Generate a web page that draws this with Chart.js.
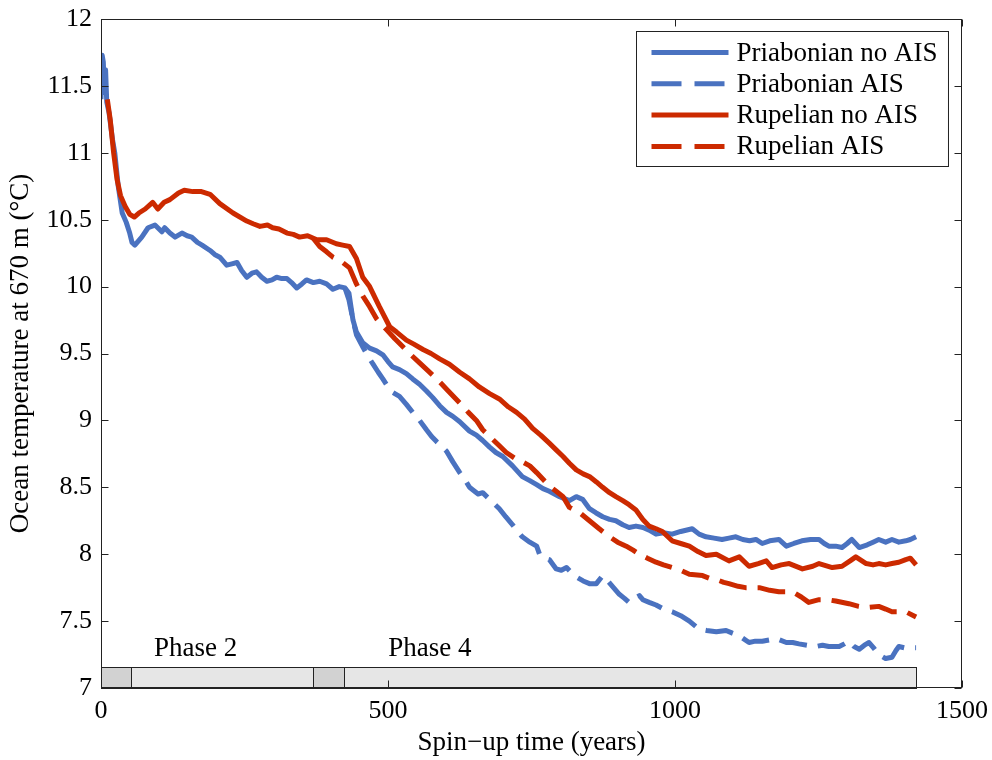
<!DOCTYPE html>
<html><head><meta charset="utf-8">
<script src="https://cdn.jsdelivr.net/npm/chart.js@4/dist/chart.umd.min.js"></script>
<style>html,body{margin:0;padding:0;background:#fff}</style>
</head><body>
<canvas id="c" width="992" height="760"></canvas>
<script>
// ---------- DATA ----------
const seriesNames = ['Priabonian no AIS', 'Priabonian AIS', 'Rupelian no AIS', 'Rupelian AIS'];

const pnYears = [0,2,4,6,8,10,14,20,24,30, 37,44,50,54,59,65,71,82,94,106, 111,120,129,141,150,158,168,176,190,198,
  207,219,228,237,245,254,263,271,280,289, 298,306,315,324,332,341,350,358,370,381, 393,404,415,425,432,439,445,456,468,480,
  491,500,508,520,532,543,555,567,578,590, 602,613,625,642,654,665,677,688,700,717, 734,747,759,770,781,799,816,828,839,851,
  862,874,886,897,909,920,932,944,955,967, 980,995,1010,1030,1042,1054,1068,1082,1094,1106, 1118,1130,1141,1152,1165,1181,1194,1207,1221,1236,
  1251,1260,1268,1280,1291,1300,1308,1321,1335,1345, 1355,1367,1378,1390,1402,1410,1420];
const pnTemps = [11.40,11.73,11.68,11.45,11.62,11.38,11.30,11.10,11.00,10.75, 10.55,10.48,10.40,10.33,10.31,10.34,10.37,10.44,10.46,10.41, 10.44,10.40,10.37,10.40,10.38,10.37,10.33,10.31,10.27,10.24,
  10.22,10.16,10.17,10.18,10.12,10.07,10.10,10.11,10.07,10.04, 10.05,10.07,10.06,10.06,10.03,9.99,10.02,10.05,10.03,10.04, 10.02,9.98,10.00,9.99,9.95,9.75,9.66,9.58,9.54,9.52,
  9.49,9.44,9.40,9.38,9.35,9.31,9.27,9.22,9.17,9.11, 9.06,9.03,8.99,8.92,8.89,8.85,8.80,8.76,8.73,8.66, 8.58,8.55,8.52,8.49,8.47,8.43,8.40,8.43,8.41,8.34,
  8.31,8.28,8.26,8.25,8.22,8.20,8.21,8.20,8.18,8.15, 8.16,8.15,8.17,8.19,8.15,8.13,8.12,8.11,8.12,8.13, 8.11,8.10,8.11,8.08,8.10,8.11,8.06,8.08,8.10,8.11,
  8.11,8.08,8.06,8.06,8.05,8.08,8.11,8.05,8.07,8.09, 8.11,8.09,8.11,8.09,8.10,8.11,8.13];

const paYears = [425,432,439,445,456,465,474,483,491,500, 508,520,532,543,555,567,576,585,595,602, 613,625,635,642,648,657,665,677,694,705,
  717,726,734,747,759,764,772,781,793,802, 811,820,828,840,851,863,874,883,891,903, 912,920,930,938,944,955,967,980,995,1010,
  1025,1042,1055,1072,1089,1100,1112,1129,1140,1152, 1165,1176,1194,1205,1216,1230,1245,1257,1268,1286, 1295,1303,1312,1321,1330,1338,1346,1355,1367,1378,
  1385,1390,1400,1410,1420];
const paTemps = [9.99,9.90,9.75,9.64,9.55,9.48,9.42,9.36,9.31,9.25, 9.21,9.18,9.12,9.06,9.00,8.93,8.88,8.84,8.80,8.77, 8.69,8.61,8.55,8.50,8.48,8.45,8.46,8.41,8.34,8.28,
  8.22,8.17,8.13,8.09,8.06,8.00,7.97,7.96,7.89,7.88, 7.90,7.86,7.83,7.80,7.78,7.78,7.84,7.80,7.76,7.70, 7.67,7.64,7.67,7.69,7.66,7.64,7.62,7.59,7.57,7.54,
  7.50,7.44,7.43,7.42,7.43,7.41,7.39,7.34,7.35,7.35, 7.36,7.37,7.34,7.34,7.33,7.32,7.31,7.32,7.31,7.31, 7.33,7.35,7.31,7.29,7.32,7.34,7.30,7.25,7.22,7.23,
  7.28,7.31,7.30,7.30,7.30];

const rnYears = [11,16,22,28,34,42,50,58,66,77, 90,99,110,120,135,145,160,175,190,207, 230,254,265,277,290,299,310,324,335,346,
  360,376,393,410,421,433,445,456,468,485, 503,515,532,545,561,575,590,607,625,642, 659,677,694,710,724,738,752,766,781,793,
  805,816,828,840,851,863,874,886,897,909, 920,932,944,955,967,978,995,1010,1025,1040, 1054,1072,1094,1112,1129,1145,1159,1169,1185,1199,
  1222,1240,1251,1274,1291,1305,1315,1333,1345,1355, 1367,1378,1390,1402,1410,1420];
const rnTemps = [11.40,11.25,11.00,10.80,10.68,10.60,10.54,10.52,10.55,10.58, 10.63,10.58,10.63,10.65,10.70,10.72,10.71,10.71,10.69,10.62, 10.55,10.49,10.47,10.45,10.46,10.44,10.43,10.40,10.39,10.37,
  10.38,10.35,10.35,10.32,10.31,10.30,10.21,10.07,10.00,9.85, 9.70,9.66,9.60,9.57,9.53,9.50,9.46,9.42,9.36,9.31, 9.25,9.20,9.16,9.10,9.06,9.01,8.94,8.89,8.83,8.78,
  8.73,8.68,8.63,8.60,8.58,8.54,8.50,8.46,8.43,8.40, 8.37,8.33,8.26,8.21,8.19,8.17,8.10,8.08,8.06,8.02, 7.99,8.00,7.95,7.98,7.91,7.93,7.95,7.90,7.92,7.93,
  7.89,7.91,7.93,7.90,7.91,7.95,7.98,7.93,7.92,7.93, 7.92,7.93,7.94,7.96,7.97,7.92];

const raYears = [370,381,393,404,418,433,445,456,468,480, 497,512,526,540,555,570,585,605,625,640, 654,665,682,694,706,720,734,747,759,770,
  781,793,805,816,834,851,868,886,900,915, 927,938,952,967,980,995,1010,1025,1048,1060, 1072,1085,1094,1110,1123,1147,1165,1181,1204,1220,
  1233,1251,1265,1280,1303,1320,1333,1355,1367,1378, 1402,1420];
const raTemps = [10.36,10.30,10.26,10.22,10.19,10.14,10.02,9.93,9.85,9.76, 9.68,9.61,9.55,9.49,9.43,9.37,9.31,9.22,9.13,9.06, 9.00,8.93,8.86,8.81,8.76,8.72,8.69,8.66,8.61,8.56,
  8.51,8.47,8.43,8.35,8.31,8.25,8.19,8.13,8.09,8.06, 8.03,8.00,7.97,7.94,7.92,7.90,7.88,7.85,7.84,7.82, 7.81,7.79,7.78,7.76,7.75,7.75,7.73,7.72,7.72,7.68,
  7.64,7.66,7.66,7.65,7.63,7.61,7.60,7.61,7.59,7.57, 7.57,7.53];

// phases (years)
const phaseStarts = [0, 52, 370, 423];
const phaseEnds = [52, 370, 423, 1420];
const phaseLabels = ['', 'Phase 2', '', 'Phase 4'];
const phaseBarTop = 7.16;

const xTicks = [0, 500, 1000, 1500];
const yTicks = [7, 7.5, 8, 8.5, 9, 9.5, 10, 10.5, 11, 11.5, 12];

// ---------- STYLE ----------
const BLUE = '#4a72c0';
const RED = '#cc2a00';
const FONT = "'Liberation Serif', 'Times New Roman', serif";
const DASH = [28, 11];
const phaseFill = ['#d2d2d2', '#e6e6e6', '#d2d2d2', '#e6e6e6'];
const phaseLabelAt = [0, 165, 0, 573];   // label anchor (years)
const phaseLabelLevel = 7.29;

const toPts = (xs, ys) => xs.map((x, i) => ({x, y: ys[i]}));

const seriesStyle = [
  {color: BLUE, dash: []}, {color: BLUE, dash: DASH},
  {color: RED, dash: []}, {color: RED, dash: DASH}
];
const seriesData = [toPts(pnYears, pnTemps), toPts(paYears, paTemps), toPts(rnYears, rnTemps), toPts(raYears, raTemps)];

const datasets = seriesNames.map((name, i) => ({
  label: name,
  data: seriesData[i],
  borderColor: seriesStyle[i].color,
  backgroundColor: seriesStyle[i].color,
  borderDash: seriesStyle[i].dash,
  borderWidth: 5,
  pointRadius: 0,
  tension: 0,
  fill: false,
  borderJoinStyle: 'round',
  borderCapStyle: 'butt',
  order: 4 - i
}));

const phasePlugin = {
  id: 'phases',
  beforeDatasetsDraw(chart) {
    const {ctx, scales: {x, y}} = chart;
    ctx.save();
    const yT = Math.round(y.getPixelForValue(phaseBarTop)) + 0.5;
    const yB = Math.round(y.getPixelForValue(7)) + 0.5;
    phaseStarts.forEach((s, i) => {
      const x0 = Math.round(x.getPixelForValue(s)) + 0.5;
      const x1 = Math.round(x.getPixelForValue(phaseEnds[i])) + 0.5;
      ctx.fillStyle = phaseFill[i];
      ctx.fillRect(x0, yT, x1 - x0, yB - yT);
      ctx.strokeStyle = '#222';
      ctx.lineWidth = 1;
      ctx.strokeRect(x0, yT, x1 - x0, yB - yT);
      if (phaseLabels[i]) {
        ctx.fillStyle = '#000';
        ctx.font = '27px ' + FONT;
        ctx.textAlign = 'center';
        ctx.textBaseline = 'middle';
        ctx.fillText(phaseLabels[i], x.getPixelForValue(phaseLabelAt[i]), y.getPixelForValue(phaseLabelLevel));
      }
    });
    ctx.restore();
  }
};

const framePlugin = {
  id: 'frame',
  afterDraw(chart) {
    const {ctx, chartArea: a, scales: {x, y}} = chart;
    ctx.save();
    ctx.strokeStyle = '#222';
    ctx.lineWidth = 1;
    const L = Math.round(a.left) + 0.5, R = Math.round(a.right) - 0.5;
    const T = Math.round(a.top) + 0.5, B = Math.round(a.bottom) - 0.5;
    ctx.strokeRect(L, T, R - L, B - T);
    const tl = 7;
    ctx.beginPath();
    yTicks.forEach(v => {
      const p = Math.round(y.getPixelForValue(v)) + 0.5;
      ctx.moveTo(L, p); ctx.lineTo(L + tl, p);
      ctx.moveTo(R, p); ctx.lineTo(R - tl, p);
    });
    xTicks.forEach(v => {
      const p = Math.round(x.getPixelForValue(v)) + 0.5;
      ctx.moveTo(p, B); ctx.lineTo(p, B - tl);
      ctx.moveTo(p, T); ctx.lineTo(p, T + tl);
    });
    ctx.stroke();

    // legend
    ctx.font = '27px ' + FONT;
    const rowH = 31.3;
    const textW = Math.max(...seriesNames.map(n => ctx.measureText(n).width));
    const bw = 15 + 77 + 8 + textW + 11;
    const bh = 135;
    const bx = Math.round(a.right - 14 - bw) + 0.5;
    const by = Math.round(a.top + 12) + 0.5;
    ctx.fillStyle = '#fff';
    ctx.fillRect(bx, by, bw, bh);
    ctx.strokeStyle = '#222';
    ctx.lineWidth = 1;
    ctx.strokeRect(bx, by, bw, bh);
    seriesNames.forEach((n, i) => {
      const cy = by + 21 + i * rowH;
      ctx.save();
      ctx.strokeStyle = seriesStyle[i].color;
      ctx.lineWidth = 5;
      ctx.setLineDash(seriesStyle[i].dash.length ? [30, 13] : []);
      ctx.beginPath();
      ctx.moveTo(bx + 15, cy);
      ctx.lineTo(bx + 92, cy);
      ctx.stroke();
      ctx.restore();
      ctx.fillStyle = '#000';
      ctx.textAlign = 'left';
      ctx.textBaseline = 'middle';
      ctx.fillText(n, bx + 100, cy + 1);
    });
    ctx.restore();
  }
};

new Chart(document.getElementById('c'), {
  type: 'line',
  data: {datasets},
  options: {
    responsive: false,
    animation: false,
    devicePixelRatio: 1,
    layout: {padding: {top: 19, right: 30, left: 0, bottom: 0}},
    plugins: {legend: {display: false}, tooltip: {enabled: false}},
    scales: {
      x: {
        type: 'linear', min: 0, max: 1500,
        afterBuildTicks: s => { s.ticks = xTicks.map(v => ({value: v})); },
        afterFit: s => { s.height = 72; s.paddingLeft = 0; s.paddingRight = 0; },
        grid: {display: false, drawTicks: false},
        border: {display: false},
        ticks: {color: '#000', font: {family: FONT, size: 26}, padding: 8, autoSkip: false, maxRotation: 0,
          callback: v => String(v)},
        title: {display: true, text: 'Spin\u2212up time (years)', color: '#000', font: {family: FONT, size: 27}, padding: {bottom: 1, top: 0}}
      },
      y: {
        type: 'linear', min: 7, max: 12,
        afterBuildTicks: s => { s.ticks = yTicks.map(v => ({value: v})); },
        afterFit: s => { s.width = 101; s.paddingTop = 0; s.paddingBottom = 0; },
        grid: {display: false, drawTicks: false},
        border: {display: false},
        ticks: {color: '#000', font: {family: FONT, size: 26}, padding: 9, autoSkip: false,
          callback: v => String(v)},
        title: {display: true, text: 'Ocean temperature at 670 m (°C)', color: '#000', font: {family: FONT, size: 27}, padding: {top: 5, bottom: 0}}
      }
    }
  },
  plugins: [phasePlugin, framePlugin]
});
</script>
</body></html>
